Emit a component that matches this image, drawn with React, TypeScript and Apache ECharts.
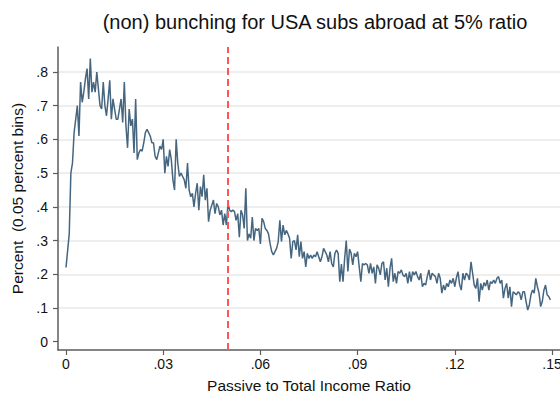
import React, { useEffect, useRef } from "react";
import * as echarts from "echarts";

// Share of subsidiaries per 0.05 percent bin of the passive-to-total income ratio
const binWidth = 0.0005;
const percentPerBin: number[] = [
  0.22, 0.27, 0.32, 0.5, 0.53, 0.62, 0.66, 0.7, 0.61, 0.77,
  0.71, 0.74, 0.78, 0.81, 0.72, 0.84, 0.74, 0.77, 0.74, 0.8,
  0.75, 0.7, 0.69, 0.77, 0.7, 0.67, 0.72, 0.775, 0.66, 0.72,
  0.69, 0.66, 0.66, 0.69, 0.72, 0.65, 0.77, 0.64, 0.575, 0.69,
  0.64, 0.66, 0.56, 0.72, 0.54, 0.56, 0.57, 0.565, 0.59, 0.62,
  0.63, 0.62, 0.61, 0.59, 0.59, 0.55, 0.54, 0.56, 0.58, 0.57,
  0.6, 0.5, 0.55, 0.52, 0.57, 0.54, 0.48, 0.45, 0.6, 0.53,
  0.49, 0.5, 0.49, 0.48, 0.455, 0.53, 0.45, 0.43, 0.44, 0.4,
  0.44, 0.47, 0.39, 0.46, 0.43, 0.495, 0.42, 0.455, 0.356, 0.39,
  0.405, 0.42, 0.38, 0.41, 0.4, 0.376, 0.39, 0.346, 0.38, 0.346,
  0.41, 0.39, 0.386, 0.39, 0.386, 0.36, 0.38, 0.31, 0.39, 0.376,
  0.336, 0.455, 0.3, 0.32, 0.307, 0.37, 0.3, 0.336, 0.33, 0.336,
  0.29, 0.366, 0.356, 0.336, 0.33, 0.32, 0.29, 0.267, 0.257, 0.267,
  0.277, 0.297, 0.36, 0.297, 0.346, 0.317, 0.33, 0.32, 0.307, 0.247,
  0.297, 0.3, 0.272, 0.317, 0.252, 0.297, 0.247, 0.267, 0.222, 0.262,
  0.247, 0.257, 0.247, 0.257, 0.252, 0.267, 0.252, 0.237, 0.252, 0.277,
  0.267, 0.257, 0.237, 0.267, 0.232, 0.222, 0.262, 0.272, 0.262, 0.178,
  0.23, 0.178, 0.247, 0.3, 0.208, 0.275, 0.262, 0.228, 0.262, 0.252,
  0.267, 0.222, 0.178, 0.232, 0.228, 0.232, 0.228, 0.203, 0.232, 0.203,
  0.222, 0.173, 0.228, 0.218, 0.198, 0.232, 0.237, 0.183, 0.218, 0.163,
  0.218, 0.247, 0.178, 0.203, 0.173, 0.208, 0.203, 0.213, 0.198, 0.193,
  0.203, 0.173, 0.208, 0.178, 0.208, 0.198, 0.208, 0.193, 0.183, 0.203,
  0.163, 0.173, 0.168, 0.193, 0.213, 0.183, 0.203, 0.198, 0.193, 0.173,
  0.203, 0.188, 0.144, 0.168, 0.153, 0.173, 0.163, 0.183, 0.173, 0.188,
  0.163, 0.19, 0.208, 0.168, 0.153, 0.203, 0.183, 0.203, 0.198, 0.183,
  0.237, 0.203, 0.168, 0.158, 0.188, 0.119, 0.173, 0.153, 0.175, 0.165,
  0.183, 0.153, 0.178, 0.173, 0.183, 0.173, 0.188, 0.193, 0.173, 0.183,
  0.129, 0.158, 0.173, 0.129, 0.163, 0.104, 0.148, 0.144, 0.139, 0.148,
  0.144, 0.124, 0.148, 0.148, 0.119, 0.094, 0.109, 0.139, 0.153, 0.144,
  0.188, 0.163, 0.144, 0.104, 0.119, 0.153, 0.168, 0.139, 0.134, 0.124,
];

const xTicks: number[] = [0, 0.03, 0.06, 0.09, 0.12, 0.15];
const yTicks: number[] = [0, 0.1, 0.2, 0.3, 0.4, 0.5, 0.6, 0.7, 0.8];
const thresholdRatio = 0.05;

const titleText = "(non) bunching for USA subs abroad at 5% ratio";
const xName = "Passive to Total Income Ratio";
const yName = "Percent  (0.05 percent bins)";

const FONT = "'Liberation Sans', Arial, Helvetica, sans-serif";
const AXIS_COLOR = "#5c5c5c";
const TEXT_COLOR = "#111";

const fmtTick = (v: number) => (v === 0 ? "0" : String(v).replace(/^0/, ""));

export default function App() {
  const ref = useRef<HTMLDivElement>(null);

  useEffect(() => {
    if (!ref.current) return;
    const chart = echarts.init(ref.current, null, { renderer: "svg" });
    const points = percentPerBin.map((v, i) => [i * binWidth, v]);

    chart.setOption({
      animation: false,
      backgroundColor: "#ffffff",
      textStyle: { fontFamily: FONT },
      title: {
        text: titleText,
        left: 310,
        top: 7,
        textAlign: "center",
        textStyle: { fontFamily: FONT, fontSize: 20, fontWeight: "normal", color: TEXT_COLOR },
      },
      grid: { left: 58, right: 0, top: 47, bottom: 44, containLabel: false, outerBoundsMode: "none" },
      xAxis: {
        type: "value",
        min: -0.00247,
        max: 0.15247,
        name: xName,
        nameLocation: "middle",
        nameGap: 27,
        nameTextStyle: { fontFamily: FONT, fontSize: 15.5, color: TEXT_COLOR },
        axisLine: { show: true, onZero: false, lineStyle: { color: AXIS_COLOR, width: 1.5 } },
        axisTick: { show: true, length: 5, customValues: xTicks, lineStyle: { color: AXIS_COLOR, width: 1.2 } },
        axisLabel: {
          customValues: xTicks,
          formatter: (v: number) => fmtTick(v),
          margin: 7,
          fontFamily: FONT,
          fontSize: 14,
          color: TEXT_COLOR,
        },
        splitLine: { show: false },
      },
      yAxis: {
        type: "value",
        min: -0.0246,
        max: 0.874,
        name: yName,
        nameLocation: "middle",
        nameGap: 30,
        nameRotate: 90,
        nameTextStyle: { fontFamily: FONT, fontSize: 15.5, color: TEXT_COLOR },
        axisLine: { show: true, onZero: false, lineStyle: { color: AXIS_COLOR, width: 1.5 } },
        axisTick: { show: true, length: 5, customValues: yTicks, lineStyle: { color: AXIS_COLOR, width: 1.2 } },
        axisLabel: {
          customValues: yTicks,
          formatter: (v: number) => fmtTick(v),
          margin: 10,
          fontFamily: FONT,
          fontSize: 14,
          color: TEXT_COLOR,
        },
        splitLine: {
          show: true,
          lineStyle: {
            color: ["rgba(0,0,0,0)", "#e9e9e9", "#e9e9e9", "#e9e9e9", "#e9e9e9", "#e9e9e9", "#e9e9e9", "#e9e9e9", "#e9e9e9"],
            width: 1.6,
          },
        },
      },
      series: [
        {
          type: "line",
          data: points,
          showSymbol: false,
          symbol: "none",
          lineStyle: { color: "#46667f", width: 1.5 },
          z: 3,
          markLine: {
            silent: true,
            symbol: "none",
            label: { show: false },
            lineStyle: { color: "#ff5555", width: 2, type: [7, 4] },
            data: [{ xAxis: thresholdRatio }],
          },
        },
      ],
    });

    return () => chart.dispose();
  }, []);

  return (
    <div
      ref={ref}
      style={{ position: "fixed", left: 0, top: 0, width: 560, height: 394, background: "#fff" }}
    />
  );
}
